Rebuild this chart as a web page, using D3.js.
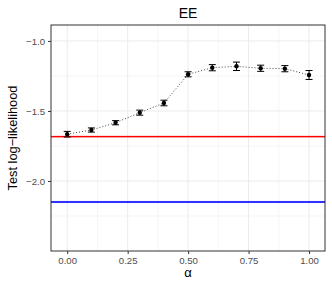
<!DOCTYPE html>
<html>
<head>
<meta charset="utf-8">
<script src="https://cdn.jsdelivr.net/npm/d3@7"></script>
<style>
body { margin: 0; background: #fff; }
text { font-family: "Liberation Sans", Arial, sans-serif; }
</style>
</head>
<body>
<div id="chart"></div>
<script>
const alphas = [0, 0.1, 0.2, 0.3, 0.4, 0.5, 0.6, 0.7, 0.8, 0.9, 1.0];
const means = [-1.666, -1.636, -1.584, -1.512, -1.443, -1.238, -1.191, -1.181, -1.195, -1.198, -1.243];
const errs = [0.02, 0.015, 0.015, 0.018, 0.02, 0.018, 0.022, 0.03, 0.022, 0.022, 0.032];
const refLines = [
	{ value: -1.683, band: 0.008, color: '#ff0000', fill: 'rgba(255,0,0,0.25)' },
	{ value: -2.15, band: 0.008, color: '#0000ff', fill: 'rgba(0,0,255,0.25)' }
];
const xTicks = [0, 0.25, 0.5, 0.75, 1.0];
const yTicks = [-1.0, -1.5, -2.0];

const W = 332, H = 285;
const margin = { top: 25, right: 7, bottom: 34, left: 51 };
const width = W - margin.left - margin.right,
	height = H - margin.top - margin.bottom;

const svg = d3.select('#chart').append('svg').attr('width', W).attr('height', H);
const g = svg.append('g').attr('transform', 'translate(' + margin.left + ',' + margin.top + ')');

const xScale = d3.scaleLinear().domain([ -0.067, 1.066 ]).range([ 0, width ]);
const yScale = d3.scaleLinear().domain([ -2.5, -0.886 ]).range([ height, 0 ]);

// grid: minor then major
const xMinor = [0.125, 0.375, 0.625, 0.875];
const yMinor = [-1.25, -1.75, -2.25];
g.selectAll('.xminor').data(xMinor).enter().append('line')
	.attr('x1', d => xScale(d)).attr('x2', d => xScale(d)).attr('y1', 0).attr('y2', height)
	.attr('stroke', '#ebebeb').attr('stroke-width', 0.5);
g.selectAll('.yminor').data(yMinor).enter().append('line')
	.attr('y1', d => yScale(d)).attr('y2', d => yScale(d)).attr('x1', 0).attr('x2', width)
	.attr('stroke', '#ebebeb').attr('stroke-width', 0.5);
g.selectAll('.xmajor').data(xTicks).enter().append('line')
	.attr('x1', d => xScale(d)).attr('x2', d => xScale(d)).attr('y1', 0).attr('y2', height)
	.attr('stroke', '#ebebeb').attr('stroke-width', 1);
g.selectAll('.ymajor').data(yTicks).enter().append('line')
	.attr('y1', d => yScale(d)).attr('y2', d => yScale(d)).attr('x1', 0).attr('x2', width)
	.attr('stroke', '#ebebeb').attr('stroke-width', 1);

// reference lines with ribbons
refLines.forEach(r => {
	g.append('rect')
		.attr('x', 0).attr('width', width)
		.attr('y', yScale(r.value + r.band))
		.attr('height', yScale(r.value - r.band) - yScale(r.value + r.band))
		.attr('fill', r.fill);
	g.append('line')
		.attr('x1', 0).attr('x2', width)
		.attr('y1', yScale(r.value)).attr('y2', yScale(r.value))
		.attr('stroke', r.color).attr('stroke-width', 1.3);
});

const data = alphas.map((a, i) => ({ a: a, m: means[i], e: errs[i] }));

// dotted connecting line
const line = d3.line().x(d => xScale(d.a)).y(d => yScale(d.m));
g.append('path').datum(data).attr('d', line)
	.attr('fill', 'none').attr('stroke', '#333').attr('stroke-width', 0.9)
	.attr('stroke-dasharray', '1,2');

// error bars
const capHalf = 0.0145;
const eb = g.selectAll('.eb').data(data).enter().append('g').attr('stroke', '#000').attr('stroke-width', 1);
eb.append('line').attr('x1', d => xScale(d.a)).attr('x2', d => xScale(d.a))
	.attr('y1', d => yScale(d.m - d.e)).attr('y2', d => yScale(d.m + d.e));
eb.append('line').attr('x1', d => xScale(d.a - capHalf)).attr('x2', d => xScale(d.a + capHalf))
	.attr('y1', d => yScale(d.m - d.e)).attr('y2', d => yScale(d.m - d.e));
eb.append('line').attr('x1', d => xScale(d.a - capHalf)).attr('x2', d => xScale(d.a + capHalf))
	.attr('y1', d => yScale(d.m + d.e)).attr('y2', d => yScale(d.m + d.e));

g.selectAll('.dot').data(data).enter().append('circle')
	.attr('cx', d => xScale(d.a)).attr('cy', d => yScale(d.m)).attr('r', 2.2).attr('fill', '#000');

// panel border
g.append('rect').attr('width', width).attr('height', height)
	.attr('fill', 'none').attr('stroke', '#333').attr('stroke-width', 1);

// axes
const fmt = d => d3.format('.1f')(d).replace('-', '\u2212');
const xAxis = d3.axisBottom(xScale).tickValues(xTicks).tickFormat(d3.format('.2f')).tickSize(3).tickPadding(3);
const yAxis = d3.axisLeft(yScale).tickValues(yTicks).tickFormat(fmt).tickSize(3).tickPadding(3);

const xa = g.append('g').attr('transform', 'translate(0,' + height + ')').call(xAxis);
const ya = g.append('g').call(yAxis);
[xa, ya].forEach(a => {
	a.select('.domain').remove();
	a.selectAll('line').attr('stroke', '#333');
	a.selectAll('text').attr('fill', '#4d4d4d').style('font-size', '9.6px')
		.style('font-family', '"Liberation Sans", Arial, sans-serif');
});

// title and labels
svg.append('text').attr('x', margin.left + width / 2).attr('y', 18)
	.attr('text-anchor', 'middle').style('font-size', '14px').attr('fill', '#000').text('EE');
svg.append('text')
	.attr('transform', 'translate(17,' + (margin.top + height / 2) + ') rotate(-90)')
	.attr('text-anchor', 'middle').style('font-size', '12.8px').attr('fill', '#000')
	.text('Test log\u2212likelihood');
svg.append('text').attr('x', margin.left + width / 2).attr('y', 277)
	.attr('text-anchor', 'middle').style('font-size', '13px').attr('fill', '#000').text('α');
</script>
</body>
</html>
